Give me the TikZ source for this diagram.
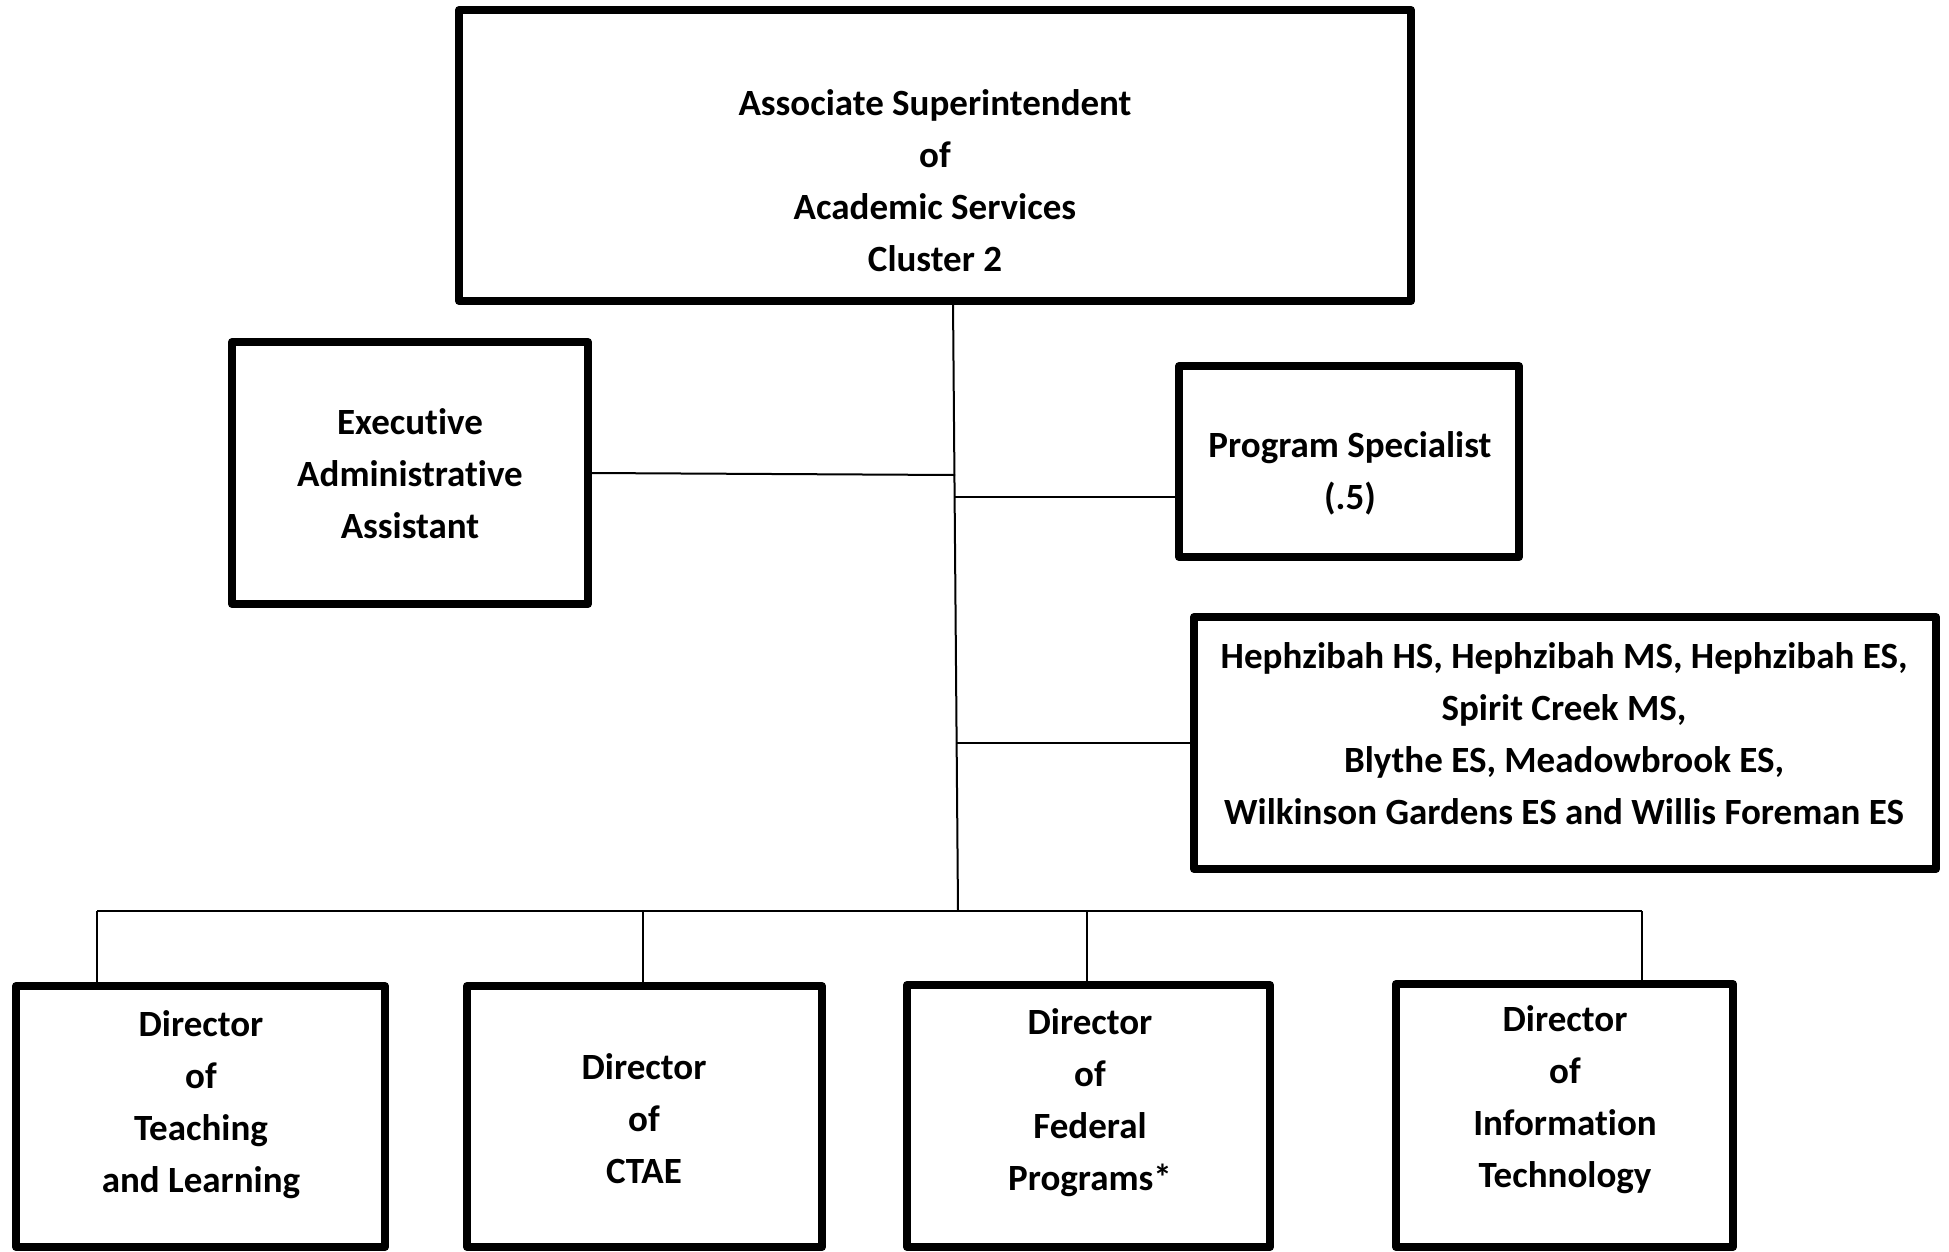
\documentclass[tikz,border=0pt]{standalone}
\usepackage{fontspec}
\setmainfont{Carlito}[RawFeature={-liga;-clig;-dlig;-calt;-rlig}]
\begin{document}
\begin{tikzpicture}[x=1pt,y=-1pt,
  box/.style={draw, line width=8pt, line join=round, inner sep=0pt, fill=white},
  conn/.style={draw, line width=2pt},
  txt/.style={align=center, font=\fontsize{37}{52}\selectfont\bfseries, inner sep=0pt}]
\useasboundingbox (0,0) rectangle (1949,1251);
% boxes
\node[box, minimum width=952, minimum height=291] (top) at (935,155.5) {};
\node[box, minimum width=356, minimum height=262] (exec) at (410,473) {};
\node[box, minimum width=340, minimum height=191] (ps) at (1349,461.5) {};
\node[box, minimum width=742, minimum height=252] (sch) at (1565,743) {};
\node[box, minimum width=369, minimum height=261] (d1) at (200.5,1116.5) {};
\node[box, minimum width=355, minimum height=261] (d2) at (644.5,1116.5) {};
\node[box, minimum width=363, minimum height=262] (d3) at (1088.5,1116) {};
\node[box, minimum width=337, minimum height=263] (d4) at (1564.5,1115.5) {};
% texts
\node[txt] (topt) at (935,181) {Associate Superintendent\\of\\Academic Services\\Cluster 2};
\node[txt] (exect) at (410,474) {Executive\\Administrative\\Assistant};
\node[txt] (pst) at (1350,473) {Program Specialist\\(.5)};
\node[txt] (scht) at (1564,734) {Hephzibah HS, Hephzibah MS, Hephzibah ES,\\Spirit Creek MS,\\Blythe ES, Meadowbrook ES,\\Wilkinson Gardens ES and Willis Foreman ES};
\node[txt] (d1t) at (201,1105) {Director\\of\\Teaching\\and Learning};
\node[txt] (d2t) at (644,1119) {Director\\of\\CTAE};
\node[txt] (d3t) at (1090,1103) {Director\\of\\Federal\\Programs*};
\node[txt] (d4t) at (1565,1100) {Director\\of\\Information\\Technology};
% junctions
\coordinate (jtop) at (953,301);
\coordinate (jexec) at (955,475);
\coordinate (jps) at (954,497);
\coordinate (jsch) at (956,743);
\coordinate (jbus) at (958,911);
\coordinate (busL) at (97,911);
\coordinate (busR) at (1642,911);
\coordinate (b2) at (643,911);
\coordinate (b3) at (1087,911);
% connectors
\draw[conn] (jtop) -- (jbus);
\draw[conn] (exec.east) -- (jexec);
\draw[conn] (jps) -- (jps -| ps.west);
\draw[conn] (jsch) -- (sch.west);
\draw[conn] (busL) -- (busR);
\draw[conn] (busL) -- (busL |- d1.north);
\draw[conn] (b2) -- (b2 |- d2.north);
\draw[conn] (b3) -- (b3 |- d3.north);
\draw[conn] (busR) -- (busR |- d4.north);
\end{tikzpicture}
\end{document}
